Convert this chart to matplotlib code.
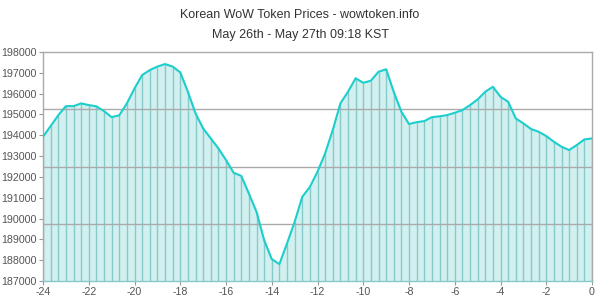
import numpy as np
import matplotlib
matplotlib.use('Agg')
import matplotlib.pyplot as plt

plt.rcParams['font.family'] = ['Liberation Sans', 'DejaVu Sans']
plt.rcParams['axes.unicode_minus'] = False

# Token price every 20 minutes over the last 24 hours
hours = np.arange(73) / 3 - 24
prices = [
    193930, 194440, 194960, 195400, 195400, 195530, 195450, 195390, 195160, 194870,
    194960, 195530, 196250, 196890, 197130, 197300, 197420, 197300, 197020, 196090,
    195050, 194330, 193850, 193370, 192810, 192200, 192050, 191200, 190320, 188960,
    188050, 187810, 188800, 189840, 191040, 191520, 192250, 193130, 194250, 195530,
    196090, 196740, 196520, 196620, 197050, 197170, 196080, 195130, 194540, 194630,
    194680, 194870, 194910, 194970, 195080, 195210, 195450, 195720, 196090, 196330,
    195850, 195610, 194810, 194570, 194300, 194170, 193960, 193690, 193450, 193290,
    193530, 193800, 193850,
]
yticks = list(range(187000, 198001, 1000))
xticks = list(range(-24, 1, 2))
ymin, ymax = 187000, 198000

fig = plt.figure(figsize=(6, 3), dpi=100)
ax = fig.add_axes([43 / 600, 1 - 281 / 300, 549 / 600, 229 / 300])

# fill, per-point vertical lines and the price line
ax.fill_between(hours, ymin, prices, color='#d2f0ef', zorder=1)
ax.vlines(hours, ymin, prices, color='#88caca', linewidth=1, zorder=2)
for g in np.linspace(ymin, ymax, 5)[1:4]:
    ax.axhline(g, color='#aaaaaa', linewidth=1, zorder=3)
ax.plot(hours, prices, color='#1ccfcc', linewidth=1.5, zorder=4)

ax.set_xlim(-24, 0)
ax.set_ylim(ymin, ymax)
ax.set_xticks(xticks)
ax.set_yticks(yticks)
ax.tick_params(labelsize=7.7, length=3, width=0.8, pad=1.5,
               colors='#999999', labelcolor='#555555')
for s in ax.spines.values():
    s.set_color('#aaaaaa')
    s.set_linewidth(1)
ax.spines['bottom'].set_color('#88c8c8')

fig.text(0.5, 1 - 15 / 300, 'Korean WoW Token Prices - wowtoken.info',
         ha='center', va='center', fontsize=9, color='#333333')
fig.text(0.5, 1 - 35 / 300, 'May 26th - May 27th 09:18 KST',
         ha='center', va='center', fontsize=9, color='#333333')

fig.savefig('out.png', dpi=100)
